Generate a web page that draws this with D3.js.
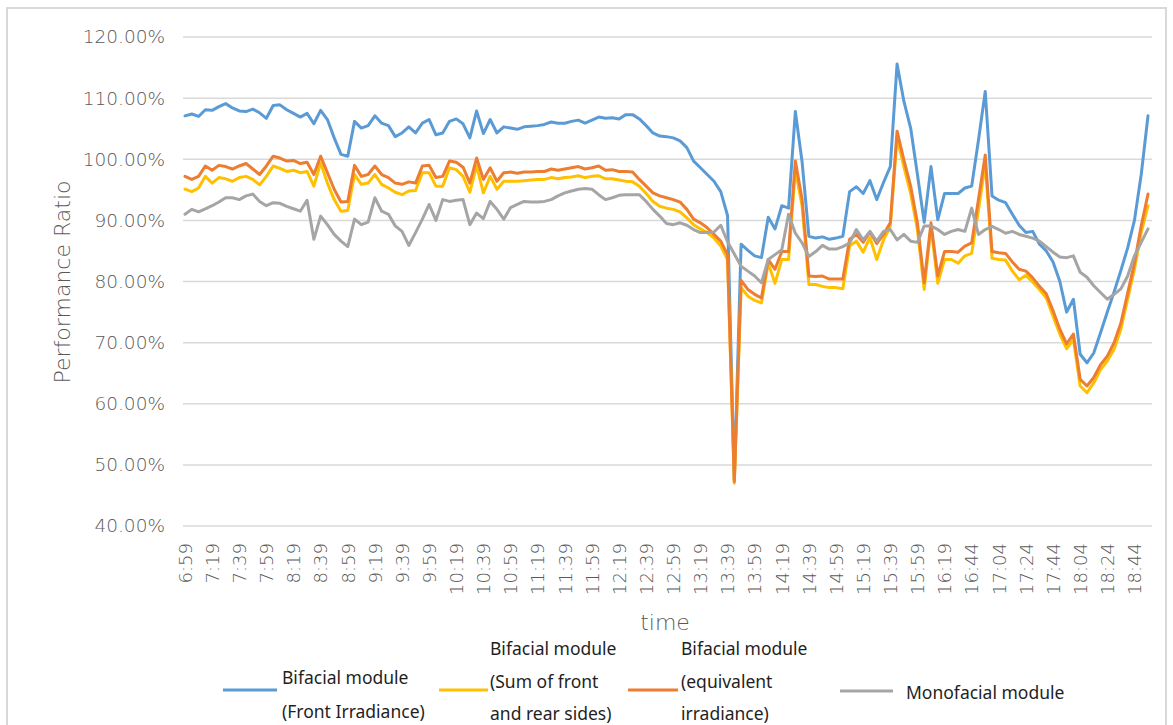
<!DOCTYPE html>
<html>
<head>
<meta charset="utf-8">
<script src="https://cdn.jsdelivr.net/npm/d3@7"></script>
<style>
  html, body { margin: 0; padding: 0; background: #fff; }
  svg { display: block; }
</style>
</head>
<body>
<svg id="chart" width="1173" height="725"></svg>
<script>
// ---------------- DATA ----------------
const categories = [
  "6:59","7:04","7:09","7:14","7:19","7:24","7:29","7:34","7:39","7:44","7:49","7:54",
  "7:59","8:04","8:09","8:14","8:19","8:24","8:29","8:34","8:39","8:44","8:49","8:54",
  "8:59","9:04","9:09","9:14","9:19","9:24","9:29","9:34","9:39","9:44","9:49","9:54",
  "9:59","10:04","10:09","10:14","10:19","10:24","10:29","10:34","10:39","10:44","10:49","10:54",
  "10:59","11:04","11:09","11:14","11:19","11:24","11:29","11:34","11:39","11:44","11:49","11:54",
  "11:59","12:04","12:09","12:14","12:19","12:24","12:29","12:34","12:39","12:44","12:49","12:54",
  "12:59","13:04","13:09","13:14","13:19","13:24","13:29","13:34","13:39","13:44","13:49","13:54",
  "13:59","14:04","14:09","14:14","14:19","14:24","14:29","14:34","14:39","14:44","14:49","14:54",
  "14:59","15:04","15:09","15:14","15:19","15:24","15:29","15:34","15:39","15:44","15:49","15:54",
  "15:59","16:04","16:09","16:14","16:19","16:24","16:29","16:39","16:44","16:49","16:54","16:59",
  "17:04","17:09","17:14","17:19","17:24","17:29","17:34","17:39","17:44","17:49","17:54","17:59",
  "18:04","18:09","18:14","18:19","18:24","18:29","18:34","18:39","18:44","18:49","18:54"
];

const tickLabels = ["6:59","7:19","7:39","7:59","8:19","8:39","8:59","9:19","9:39","9:59",
  "10:19","10:39","10:59","11:19","11:39","11:59","12:19","12:39","12:59","13:19","13:39",
  "13:59","14:19","14:39","14:59","15:19","15:39","15:59","16:19","16:44","17:04","17:24",
  "17:44","18:04","18:24","18:44"];

const yTicks = [40, 50, 60, 70, 80, 90, 100, 110, 120];

// Bifacial module (Front Irradiance)
const bifacialFront = [
  107.1,107.4,107.0,108.1,108.0,108.6,109.1,108.4,107.9,107.8,108.2,107.6,
  106.7,108.8,108.9,108.1,107.5,106.9,107.5,105.8,108.0,106.5,103.5,100.8,
  100.5,106.2,105.1,105.5,107.1,105.9,105.5,103.7,104.3,105.3,104.3,105.9,
  106.5,104.0,104.3,106.2,106.6,105.8,103.5,107.9,104.2,106.5,104.3,105.3,
  105.1,104.9,105.3,105.4,105.5,105.7,106.1,105.9,105.9,106.2,106.4,105.9,
  106.4,106.9,106.7,106.8,106.6,107.3,107.3,106.6,105.5,104.3,103.8,103.7,
  103.5,103.0,101.9,99.7,98.6,97.5,96.4,94.7,90.8,47.5,86.1,85.1,
  84.2,83.9,90.5,88.6,92.4,92.0,107.8,99.5,87.4,87.1,87.3,86.9,
  87.1,87.4,94.7,95.5,94.4,96.5,93.4,96.2,98.8,115.6,109.5,105.1,
  97.5,89.7,98.8,90.1,94.4,94.4,94.4,95.3,95.6,103.1,111.1,94.0,
  93.3,92.9,91.0,89.2,88.0,88.2,86.1,85.0,83.2,80.0,75.0,77.1,
  68.1,66.7,68.3,71.6,75.0,78.3,81.8,85.5,90.0,97.5,107.1
];

// Bifacial module (Sum of front and rear sides)
const bifacialSum = [
  95.1,94.7,95.3,97.2,96.1,97.0,96.8,96.4,97.0,97.2,96.7,95.8,
  97.2,98.9,98.5,98.0,98.2,97.8,98.0,95.6,99.4,96.1,93.4,91.5,
  91.6,97.5,95.9,96.1,97.5,95.9,95.3,94.6,94.2,94.8,94.9,97.8,
  97.8,95.6,95.6,98.6,98.3,97.2,94.6,98.9,94.5,97.2,95.1,96.4,
  96.4,96.4,96.5,96.6,96.7,96.7,97.0,96.8,97.0,97.1,97.3,97.0,
  97.2,97.3,96.8,96.8,96.6,96.4,96.3,95.6,94.4,93.1,92.3,92.0,
  91.8,91.4,90.4,89.3,88.6,88.0,87.1,85.8,83.6,47.0,79.0,77.6,
  76.9,76.5,83.0,79.7,83.6,83.6,98.3,92.3,79.5,79.5,79.2,79.0,
  79.0,78.8,85.8,86.6,84.8,87.2,83.6,86.8,89.0,103.5,98.8,94.4,
  88.5,78.7,89.0,79.7,83.6,83.6,83.0,84.2,84.6,91.7,99.3,83.8,
  83.6,83.5,81.7,80.3,81.0,79.9,78.7,77.3,74.3,71.4,69.0,70.5,
  62.9,61.8,63.4,65.6,67.0,68.9,72.2,77.1,82.0,88.0,92.4
];

// Bifacial module (equivalent irradiance)
const bifacialEquiv = [
  97.2,96.7,97.2,98.9,98.2,99.0,98.8,98.4,98.9,99.3,98.4,97.5,
  98.9,100.5,100.2,99.7,99.8,99.3,99.5,97.5,100.5,97.8,95.1,93.0,
  93.1,99.0,97.2,97.5,98.9,97.5,97.0,96.1,95.9,96.3,96.1,98.9,
  99.0,97.0,97.2,99.7,99.5,98.7,96.1,100.2,96.7,98.6,96.4,97.8,
  97.9,97.7,97.9,97.9,98.0,98.0,98.4,98.2,98.4,98.6,98.8,98.4,
  98.6,98.9,98.2,98.3,98.0,98.0,97.9,96.7,95.6,94.5,94.0,93.7,
  93.4,93.0,91.8,90.2,89.6,88.8,87.7,86.6,84.4,47.3,80.2,78.7,
  77.9,77.3,83.6,82.0,84.9,84.9,99.7,93.4,80.9,80.8,80.9,80.4,
  80.4,80.4,86.9,87.7,86.4,88.1,86.2,87.7,89.6,104.6,99.9,95.6,
  89.6,79.8,89.6,80.9,84.9,84.9,84.8,85.8,86.3,93.4,100.7,84.9,
  84.7,84.6,83.2,82.0,81.7,80.6,79.2,78.0,75.2,72.2,69.8,71.4,
  64.0,62.9,64.3,66.4,67.8,70.0,73.2,78.1,83.0,89.1,94.3
];

// Monofacial module
const monofacial = [
  91.0,91.8,91.4,91.9,92.4,93.0,93.7,93.7,93.4,94.0,94.3,93.1,
  92.4,92.9,92.8,92.3,91.9,91.5,93.3,86.9,90.7,89.3,87.7,86.6,
  85.7,90.2,89.3,89.7,93.7,91.5,91.0,89.1,88.2,85.9,88.0,90.2,
  92.6,90.0,93.4,93.1,93.3,93.4,89.3,91.2,90.3,93.1,91.8,90.2,
  92.1,92.6,93.1,93.0,93.0,93.1,93.4,94.0,94.5,94.8,95.1,95.2,
  95.1,94.2,93.4,93.7,94.1,94.2,94.2,94.2,93.1,91.8,90.7,89.5,
  89.3,89.6,89.2,88.5,88.0,88.0,88.1,89.2,86.5,84.5,82.5,81.7,
  80.9,79.8,83.6,84.4,85.2,91.0,87.9,86.3,84.1,84.9,85.9,85.3,
  85.3,85.7,86.3,88.5,86.8,88.2,86.6,88.2,88.5,86.8,87.7,86.6,
  86.4,89.1,89.1,88.5,87.7,88.2,88.5,88.2,92.0,87.7,88.5,89.0,
  88.5,87.9,88.2,87.7,87.4,87.1,86.6,85.7,84.8,84.0,83.9,84.2,
  81.5,80.7,79.3,78.2,77.1,77.9,78.8,80.9,84.2,86.4,88.6
];

const seriesNames = [
  ["Bifacial module", "(Front Irradiance)"],
  ["Bifacial module", "(Sum of front", "and rear sides)"],
  ["Bifacial module", "(equivalent", "irradiance)"],
  ["Monofacial module"]
];
const seriesColors = ["#5B9BD5", "#FFC000", "#ED7D31", "#A5A5A5"];
const seriesValues = [bifacialFront, bifacialSum, bifacialEquiv, monofacial];

// ---------------- DRAW ----------------
const svg = d3.select("#chart");
const plot = { left: 183, right: 1152, top: 37, bottom: 526 };

// outer chart border
svg.append("rect")
  .attr("x", 7).attr("y", 8).attr("width", 1159).attr("height", 740)
  .attr("fill", "none").attr("stroke", "#d9d9d9").attr("stroke-width", 2);

const x = d3.scalePoint().domain(categories).range([185, 1148]).padding(0);
const y = d3.scaleLinear().domain([40, 120]).range([plot.bottom, plot.top]);

// gridlines
svg.append("g").selectAll("line").data(yTicks).join("line")
  .attr("x1", plot.left).attr("x2", plot.right)
  .attr("y1", d => y(d)).attr("y2", d => y(d))
  .attr("stroke", "#d9d9d9").attr("stroke-width", 1.5);

// y axis
const yAxis = svg.append("g")
  .attr("transform", `translate(${plot.left - 18},0)`)
  .call(d3.axisLeft(y).tickValues(yTicks).tickSize(0).tickFormat(d => d.toFixed(2) + "%"));
yAxis.select(".domain").remove();
yAxis.selectAll("text")
  .attr("x", 0)
  .attr("font-family", "'DejaVu Sans', sans-serif")
  .attr("font-weight", 200)
  .attr("font-size", 18.5)
  .attr("fill", "#595959");

// x axis
const xAxis = svg.append("g")
  .attr("transform", `translate(0,${plot.bottom})`)
  .call(d3.axisBottom(x).tickValues(tickLabels).tickSize(0));
xAxis.select(".domain").remove();
xAxis.selectAll("text")
  .attr("font-family", "'DejaVu Sans', sans-serif")
  .attr("font-weight", 200)
  .attr("font-size", 18)
  .attr("fill", "#595959")
  .attr("text-anchor", "end")
  .attr("dy", "0.35em")
  .attr("transform", "rotate(-90)")
  .attr("x", -17)
  .attr("y", 0);

// axis titles
svg.append("text")
  .attr("transform", "translate(70,282) rotate(-90)")
  .attr("text-anchor", "middle")
  .attr("font-family", "'DejaVu Sans', sans-serif")
  .attr("font-weight", 200)
  .attr("font-size", 22)
  .attr("fill", "#595959")
  .text("Performance Ratio");

svg.append("text")
  .attr("x", 665).attr("y", 630)
  .attr("text-anchor", "middle")
  .attr("font-family", "'DejaVu Sans', sans-serif")
  .attr("font-weight", 200)
  .attr("font-size", 22)
  .attr("fill", "#595959")
  .text("time");

// lines
const line = d3.line()
  .x((d, i) => x(categories[i]))
  .y(d => y(d));

svg.append("g").selectAll("path").data(seriesValues).join("path")
  .attr("d", d => line(d))
  .attr("fill", "none")
  .attr("stroke", (d, i) => seriesColors[i])
  .attr("stroke-width", 3)
  .attr("stroke-linejoin", "round")
  .attr("stroke-linecap", "round");

// legend
const legendItems = [
  { sx: 223, ex: 277, tx: 282, lines: seriesNames[0], ys: [684, 718], sy: 690 },
  { sx: 439, ex: 488, tx: 490, lines: seriesNames[1], ys: [655, 688, 720], sy: 690 },
  { sx: 628, ex: 678, tx: 681, lines: seriesNames[2], ys: [655, 688, 720], sy: 690 },
  { sx: 840, ex: 893, tx: 906, lines: seriesNames[3], ys: [699], sy: 691 }
];
const lg = svg.append("g");
legendItems.forEach((it, i) => {
  lg.append("line")
    .attr("x1", it.sx).attr("x2", it.ex).attr("y1", it.sy).attr("y2", it.sy)
    .attr("stroke", seriesColors[i]).attr("stroke-width", 3);
  it.lines.forEach((t, j) => {
    lg.append("text")
      .attr("x", it.tx).attr("y", it.ys[j])
      .attr("font-family", "'Noto Sans', sans-serif")
      .attr("font-size", 17.5)
      .attr("fill", "#1f1f1f")
      .text(t);
  });
});
</script>
</body>
</html>
